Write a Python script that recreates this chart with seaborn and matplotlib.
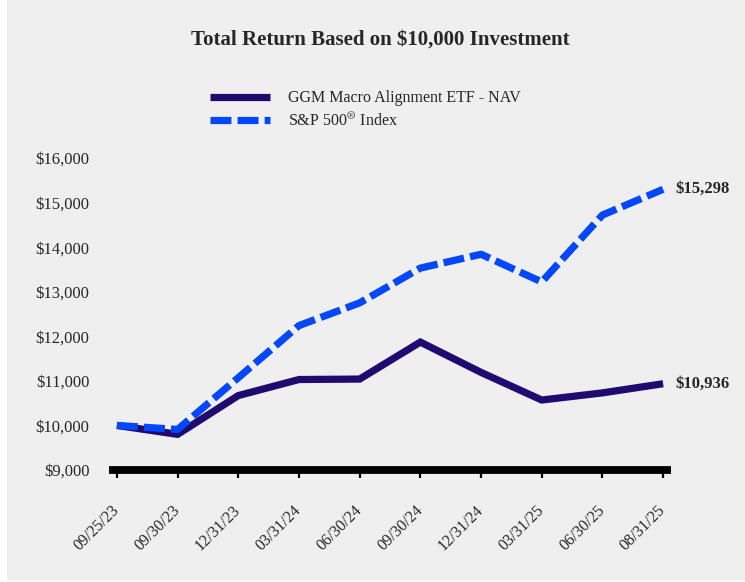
import matplotlib
matplotlib.use("Agg")
import matplotlib.pyplot as plt
import pandas as pd
import seaborn as sns

# values
dates = ["09/25/23", "09/30/23", "12/31/23", "03/31/24", "06/30/24",
         "09/30/24", "12/31/24", "03/31/25", "06/30/25", "08/31/25"]
ggm_nav = [10000, 9800, 10670, 11030, 11040, 11870, 11190, 10570, 10730, 10936]
sp500 = [10000, 9910, 11070, 12240, 12750, 13530, 13840, 13220, 14720, 15298]
series_names = ["GGM Macro Alignment ETF - NAV", "S&P 500$^{\u00ae}$ Index"]
y_ticks = [9000, 10000, 11000, 12000, 13000, 14000, 15000, 16000]

bg = "#efefef"
colors = {series_names[0]: "#1f0b6f", series_names[1]: "#0047ff"}

df = pd.DataFrame({
    "date": dates * 2,
    "value": ggm_nav + sp500,
    "series": [series_names[0]] * len(dates) + [series_names[1]] * len(dates),
})

sns.set_style("white")
plt.rcParams["font.family"] = ["Liberation Serif", "DejaVu Serif"]
plt.rcParams["mathtext.fontset"] = "stix"
plt.rcParams["lines.solid_capstyle"] = "butt"
plt.rcParams["lines.dash_capstyle"] = "butt"

fig = plt.figure(figsize=(7.45, 5.82), dpi=100, facecolor="white")
fig.patches.append(plt.Rectangle((7 / 745, 2 / 582), 1, 1, transform=fig.transFigure,
                                 facecolor=bg, edgecolor="none", zorder=-10))
ax = fig.add_axes([109 / 745, (582 - 470) / 582, (671 - 109) / 745, (470 - 158) / 582])
ax.set_facecolor(bg)

sns.lineplot(data=df, x="date", y="value", hue="series", style="series",
             palette=colors, dashes={series_names[0]: "", series_names[1]: (2.9, 0.85)},
             linewidth=5.2, ax=ax, sort=False, clip_on=False)
for ln in ax.get_lines():
    ln.set_solid_capstyle("butt")
    ln.set_dash_capstyle("butt")
    ln.set_solid_joinstyle("miter")

ax.set_xlim(-0.13, len(dates) - 1 + 0.13)
ax.set_ylim(9000, 16000)
ax.set_yticks(y_ticks)
ax.set_yticklabels([f"${v:,.0f}" for v in y_ticks], fontsize=12)
ax.set_xlabel("")
ax.set_ylabel("")
ax.set_xticks(range(len(dates)))
ax.set_xticklabels(dates, fontsize=11.5, rotation=45, ha="right", va="center",
                   rotation_mode="anchor")
# seaborn's white style turns ticks off, switch the x ones back on
ax.tick_params(axis="x", bottom=True, direction="out", length=5.5, width=1.6,
               pad=22, color="black")
ax.tick_params(axis="y", left=False, length=0, pad=14)
for side in ["top", "right", "left"]:
    ax.spines[side].set_visible(False)
ax.spines["bottom"].set_linewidth(5.6)
ax.spines["bottom"].set_color("black")
ax.spines["bottom"].set_capstyle("butt")

# end labels
ax.annotate(f"${ggm_nav[-1]:,.0f}", xy=(len(dates) - 1, ggm_nav[-1]), xytext=(9, 0),
            textcoords="offset points", fontsize=12, fontweight="bold", va="center")
ax.annotate(f"${sp500[-1]:,.0f}", xy=(len(dates) - 1, sp500[-1]), xytext=(9, 0),
            textcoords="offset points", fontsize=12, fontweight="bold", va="center")

leg = ax.legend(loc="center left", bbox_to_anchor=(196 / 745, 1 - 110 / 582),
                bbox_transform=fig.transFigure, frameon=False, fontsize=11.5,
                handlelength=3.75, handletextpad=1.1, labelspacing=0.4)
for h in leg.get_lines():
    h.set_linewidth(5.2)
    h.set_solid_capstyle("butt")
    h.set_dash_capstyle("butt")

fig.text(380 / 745, 1 - 40 / 582, "Total Return Based on $10,000 Investment",
         ha="center", va="center", fontsize=15, fontweight="bold")

fig.savefig("out.png", dpi=100, facecolor=fig.get_facecolor())
